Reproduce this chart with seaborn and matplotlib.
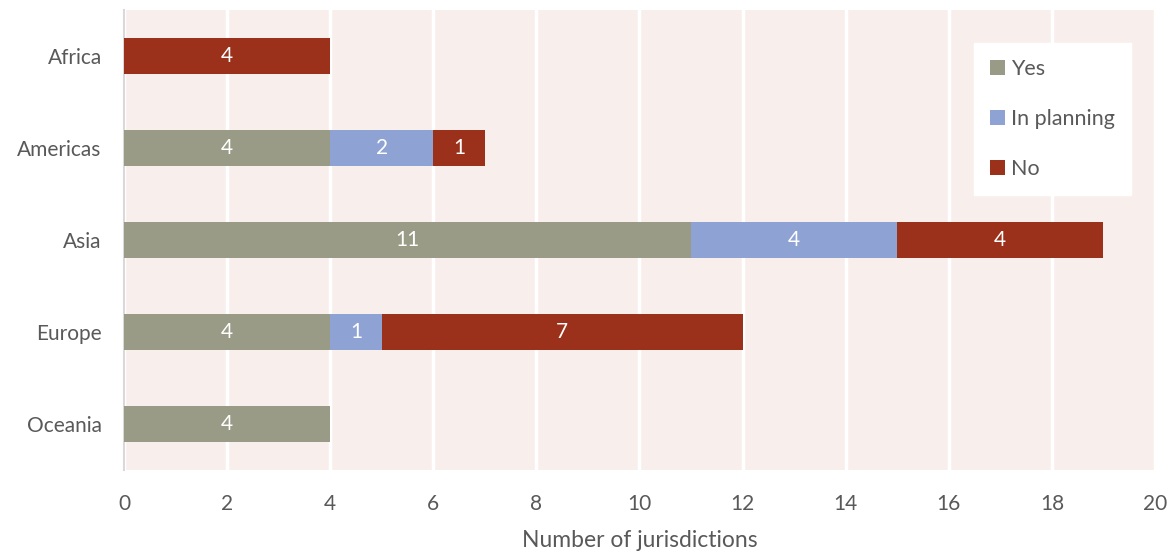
import numpy as np
import pandas as pd
import matplotlib
matplotlib.use("Agg")
import matplotlib.pyplot as plt
import seaborn as sns
from matplotlib.patches import Patch

# ---------------------- DATA ----------------------
regions = ["Africa", "Americas", "Asia", "Europe", "Oceania"]
yes = [0, 4, 11, 4, 4]
in_planning = [0, 2, 4, 1, 0]
no = [4, 1, 4, 7, 0]

series = ["Yes", "In planning", "No"]
colors = {"Yes": "#9A9B86", "In planning": "#8FA2D4", "No": "#9C311B"}

df = pd.DataFrame({"Region": regions, "Yes": yes, "In planning": in_planning, "No": no})
df["c1"] = df["Yes"]
df["c2"] = df["Yes"] + df["In planning"]
df["c3"] = df["c2"] + df["No"]

# ---------------------- PLOT ----------------------
sns.set_style("white")
plt.rcParams["font.family"] = ["Lato", "DejaVu Sans"]
text_col = "#595959"

fig = plt.figure(figsize=(11.74, 5.53), dpi=100)
ax = fig.add_axes([0.1056, 0.150, 0.8782, 0.832])
ax.set_facecolor("#F8EFEC")

# stacked bars drawn back to front (cumulative totals)
for col, name in [("c3", "No"), ("c2", "In planning"), ("c1", "Yes")]:
    sns.barplot(data=df, x=col, y="Region", order=regions, color=colors[name],
                width=0.39, saturation=1, orient="h", ax=ax, zorder=3,
                edgecolor="none", linewidth=0)

# value labels
for i, r in df.iterrows():
    start = 0
    for name in series:
        v = r[name]
        if v > 0:
            ax.text(start + v / 2, i, str(v), ha="center", va="center",
                    color="white", fontsize=15, zorder=4)
        start += v

ax.set_xlim(0, 20)
ax.set_ylim(4.5, -0.5)
ax.set_xticks(np.arange(0, 21, 2))
ax.grid(axis="x", color="white", linewidth=2.5, zorder=1)
ax.set_axisbelow(True)
for s in ["top", "right", "bottom"]:
    ax.spines[s].set_visible(False)
ax.spines["left"].set_color("#D9D9D9")
ax.spines["left"].set_linewidth(1.5)

ax.set_ylabel("")
ax.set_xlabel("Number of jurisdictions", fontsize=16.5, color=text_col, labelpad=12)
ax.tick_params(axis="both", length=0, labelsize=15, colors=text_col)
ax.tick_params(axis="x", pad=17)
ax.tick_params(axis="y", pad=16)

handles = [Patch(facecolor=colors[n], edgecolor="none", label=n) for n in series]
leg = ax.legend(handles=handles, loc="upper left", bbox_to_anchor=(0.824, 0.928),
                frameon=True, fancybox=False, fontsize=15.5, handlelength=0.7,
                handleheight=0.7, handletextpad=0.3, labelspacing=1.38,
                borderpad=0.75, borderaxespad=0, framealpha=1)
leg.get_frame().set_facecolor("white")
leg.get_frame().set_edgecolor("white")
leg.set_zorder(5)
for t in leg.get_texts():
    t.set_color(text_col)

fig.savefig("out.png", dpi=100, facecolor="white")
